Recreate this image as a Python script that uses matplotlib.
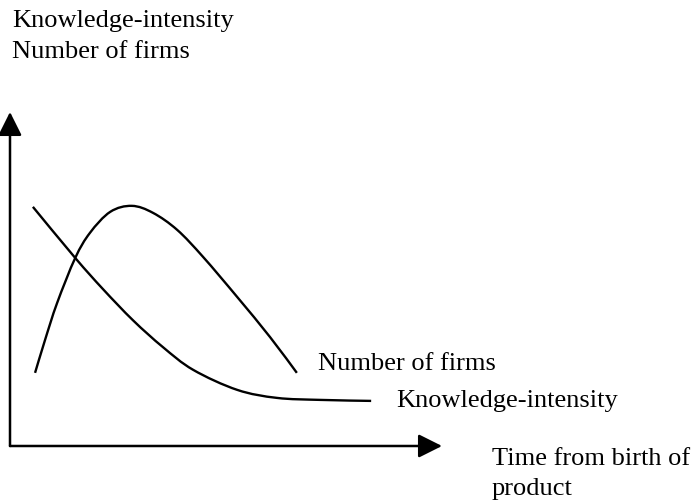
import matplotlib
matplotlib.use('Agg')
import matplotlib.pyplot as plt
from matplotlib.path import Path
from matplotlib.patches import PathPatch

# Schematic: firms vs knowledge-intensity over the product life
time_firms = [0.58, 0.81, 1.09, 1.51, 1.85, 2.32, 2.82, 3.31, 3.87, 4.47, 5.26, 6.02, 6.64]
num_firms = [2.19, 3.17, 4.28, 5.63, 6.38, 7.01, 7.19, 6.98, 6.47, 5.66, 4.46, 3.26, 2.19]

time_know = [0.53, 1.51, 2.15, 2.85, 3.54, 4.24, 5.26, 6.18, 7.18, 8.36]
knowledge = [7.16, 5.63, 4.70, 3.76, 2.96, 2.28, 1.68, 1.44, 1.38, 1.35]


def smooth_path(xs, ys):
    # Catmull-Rom through the points, written as cubic Bezier segments
    pts = list(zip(xs, ys))
    verts = [pts[0]]
    codes = [Path.MOVETO]
    for i in range(len(pts) - 1):
        p0 = pts[i - 1] if i > 0 else pts[i]
        p1 = pts[i]
        p2 = pts[i + 1]
        p3 = pts[i + 2] if i + 2 < len(pts) else pts[i + 1]
        c1 = (p1[0] + (p2[0] - p0[0]) / 6, p1[1] + (p2[1] - p0[1]) / 6)
        c2 = (p2[0] - (p3[0] - p1[0]) / 6, p2[1] - (p3[1] - p1[1]) / 6)
        verts += [c1, c2, p2]
        codes += [Path.CURVE4] * 3
    return Path(verts, codes)


plt.rcParams['font.family'] = ['Liberation Serif', 'DejaVu Serif']

fig = plt.figure(figsize=(6.93, 5.0), dpi=100)
ax = fig.add_axes([0, 0, 1, 1])
ax.set_xlim(-0.2315, 15.81)
ax.set_ylim(-1.617, 13.353)
ax.axis('off')

# axes drawn as arrows
arrow = dict(arrowstyle='-|>,head_length=1.0,head_width=0.5', mutation_scale=14.4,
             lw=1.8, color='black', shrinkA=0, shrinkB=0)
ax.annotate('', xy=(0, 10), xytext=(0, 0), arrowprops=arrow)
ax.annotate('', xy=(10, 0), xytext=(0, 0), arrowprops=arrow)

for xs, ys in [(time_firms, num_firms), (time_know, knowledge)]:
    ax.add_patch(PathPatch(smooth_path(xs, ys), fill=False, edgecolor='black',
                           lw=1.7, capstyle='butt'))

fs = 19
fig.text(12 / 693, 1 - 27 / 500, 'Knowledge-intensity', fontsize=fs, va='baseline')
fig.text(12 / 693, 1 - 58 / 500, 'Number of firms', fontsize=fs, va='baseline')
fig.text(318 / 693, 1 - 370 / 500, 'Number of firms', fontsize=fs, va='baseline')
fig.text(396 / 693, 1 - 407 / 500, 'Knowledge-intensity', fontsize=fs, va='baseline')
fig.text(492 / 693, 1 - 465 / 500, 'Time from birth of', fontsize=fs, va='baseline')
fig.text(492 / 693, 1 - 495 / 500, 'product', fontsize=fs, va='baseline')

fig.savefig('out.png', dpi=100)
